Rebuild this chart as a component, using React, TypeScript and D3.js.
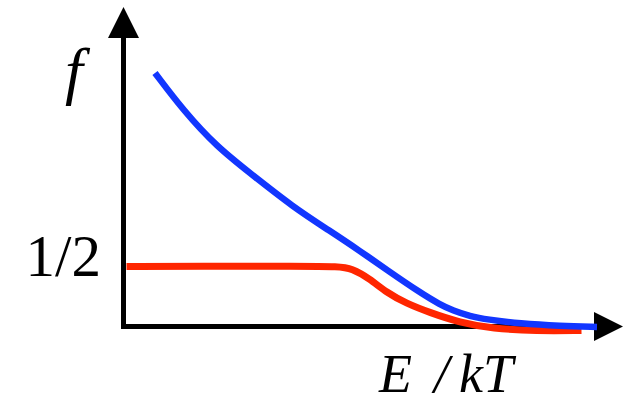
import React from "react";
import * as d3 from "d3";

// E/kT values and f values
const blueX = [0.63, 1.19, 1.87, 2.53, 3.39, 4.13, 4.73, 5.27, 5.93, 6.33, 6.59, 6.93, 7.27, 7.93, 8.73, 9.47];
const blueY = [2.113, 1.804, 1.496, 1.279, 0.996, 0.796, 0.629, 0.471, 0.283, 0.183, 0.133, 0.086, 0.058, 0.024, 0.004, -0.004];
const redX = [0.06, 1.52, 3.52, 4.32, 4.56, 4.92, 5.26, 5.66, 6.12, 6.72, 7.38, 8.26, 9.16];
const redY = [0.5, 0.503, 0.503, 0.5, 0.483, 0.4, 0.283, 0.192, 0.117, 0.033, -0.017, -0.038, -0.033];
const yTickLabel = "1/2";
const yTickValue = 0.5;
const yLabel = "f";

const SERIF = "'Times New Roman', 'Liberation Serif', Times, serif";

export default function App() {
  const W = 624, H = 403;
  const x = d3.scaleLinear().domain([0, 10]).range([123.5, 623.5]);
  const y = d3.scaleLinear().domain([0, 0.5]).range([326.5, 266.5]);

  const line = d3.line<[number, number]>()
    .x(d => x(d[0]))
    .y(d => y(d[1]))
    .curve(d3.curveBasis);

  const blue = blueX.map((v, i) => [v, blueY[i]] as [number, number]);
  const red = redX.map((v, i) => [v, redY[i]] as [number, number]);

  const x0 = x(0), y0 = y(0);
  const yTop = 7, yBase = 38;
  const xTip = 623, xBase = 594;

  return (
    <svg width={W} height={H} style={{ position: "absolute", left: 0, top: 0, background: "#fff" }}>
      <line x1={x0} x2={x0} y1={y0 + 2.5} y2={yBase} stroke="#000" strokeWidth={5} />
      <polygon points={`${x0},${yTop} ${x0 - 15.5},${yBase} ${x0 + 15.5},${yBase}`} fill="#000" />
      <line x1={x0 - 2.5} x2={xBase} y1={y0} y2={y0} stroke="#000" strokeWidth={5} />
      <polygon points={`${xTip},${y0} ${xBase},${y0 - 14.5} ${xBase},${y0 + 14.5}`} fill="#000" />

      <path d={line(red) || ""} fill="none" stroke="#ff2600" strokeWidth={7} />
      <path d={line(blue) || ""} fill="none" stroke="#1236ff" strokeWidth={6.5} />

      <text x={101} y={y(yTickValue) + 9} textAnchor="end" style={{ fontFamily: SERIF }} fontSize={59} fill="#000">{yTickLabel}</text>
      <text x={65} y={92} style={{ fontFamily: SERIF, fontStyle: "italic" }} fontSize={64} fill="#000">{yLabel}</text>
      <text y={392} style={{ fontFamily: SERIF, fontStyle: "italic" }} fontSize={54} fill="#000">
        <tspan x={379}>E</tspan>
        <tspan x={434}>/</tspan>
        <tspan x={459}>kT</tspan>
      </text>
    </svg>
  );
}
